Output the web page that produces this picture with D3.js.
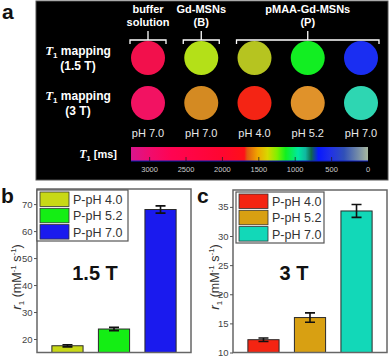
<!DOCTYPE html>
<html>
<head>
<meta charset="utf-8">
<script src="https://cdn.jsdelivr.net/npm/d3@7"></script>
<style>
  body { margin: 0; background: #fff; }
  svg { display: block; font-family: "Liberation Sans", Arial, sans-serif; }
</style>
</head>
<body>
<svg id="chart" width="390" height="358"></svg>
<script>
// ---- panel a data ----
var samples = ["buffer", "B", "P4", "P52", "P7"];
var phLabels = ["pH 7.0", "pH 7.0", "pH 4.0", "pH 5.2", "pH 7.0"];
var rowNames = ["1.5 T", "3 T"];
var colors15 = ["#f2104c", "#b4e018", "#b6c420", "#12ee22", "#1a2ef2"];
var colors3 = ["#f21262", "#d48a22", "#f42414", "#e0922a", "#2ed6b2"];
var groupLabels = [["buffer", "solution"], ["Gd-MSNs", "(B)"], ["pMAA-Gd-MSNs", "(P)"]];
var groupFirst = ["buffer", "B", "P4"];
var groupLast = ["buffer", "B", "P7"];
var cbTicks = [3000, 2500, 2000, 1500, 1000, 500, 0];
var cbStopMs = [3256, 3000, 2700, 2000, 1700, 1660, 1520, 1380, 1250, 1130, 960, 860, 780, 680, 520, 330, 150, 0];
var cbStopCol = ["#d8168e", "#f00c6e", "#ff0452", "#ff0630", "#ff1018", "#e05a10", "#f0a400", "#d8d800",
                 "#80f000", "#10f020", "#00e8a0", "#10b8a0", "#106848", "#0818ff", "#2030e8", "#3050b8", "#7088a8", "#a8b8a0"];

// ---- panels b, c data ----
var legendLabels = ["P-pH 4.0", "P-pH 5.2", "P-pH 7.0"];
var r1_15 = [17.5, 23.7, 68.0];
var err15 = [0.4, 0.6, 1.35];
var r1_3 = [12.2, 16.0, 34.3];
var err3 = [0.3, 0.8, 1.1];
var ticks15 = [20, 30, 40, 50, 60, 70];
var ticks3 = [10, 15, 20, 25, 30, 35];
var barColors15 = ["#c8d816", "#14ee14", "#1a1aee"];
var barColors3 = ["#f42412", "#d8a012", "#12d8b8"];

var svg = d3.select("#chart");

// ================= panel a =================
var a = svg.append("g");
a.append("rect").attr("x", 36).attr("y", 1).attr("width", 352).attr("height", 179)
  .attr("fill", "#000").attr("stroke", "#555").attr("stroke-width", 1);

svg.append("text").attr("x", 2).attr("y", 19).text("a")
  .attr("font-size", 21).attr("font-weight", "bold").attr("fill", "#111");

var xs = d3.scalePoint().domain(samples).range([148, 361]);
var ys = d3.scalePoint().domain(rowNames).range([58, 103]);

// group headers + brackets
groupLabels.forEach(function (lab, i) {
  var x0 = xs(groupFirst[i]) - 18, x1 = xs(groupLast[i]) + 18;
  var xm = (x0 + x1) / 2;
  if (i === 2) xm = xs("P52");
  lab.forEach(function (t, j) {
    a.append("text").attr("x", xm).attr("y", 13 + j * 13).text(t)
      .attr("text-anchor", "middle").attr("fill", "#fff")
      .attr("font-size", 11).attr("font-weight", "bold");
  });
  a.append("path")
    .attr("d", "M" + x0 + ",44V40H" + x1 + "V44M" + xm + ",40V31")
    .attr("fill", "none").attr("stroke", "#fff").attr("stroke-width", 1.3);
});

// row labels
rowNames.forEach(function (r, i) {
  var y = ys(r);
  var t = a.append("text").attr("x", 78).attr("y", y - 3).attr("text-anchor", "middle")
    .attr("fill", "#fff").attr("font-size", 12).attr("font-weight", "bold");
  t.append("tspan").text("T").attr("font-family", "'Liberation Serif', 'DejaVu Serif', serif")
    .attr("font-style", "italic").attr("font-size", 13);
  t.append("tspan").text("1").attr("font-size", 8).attr("dy", 3);
  t.append("tspan").text(" mapping").attr("dy", -3);
  a.append("text").attr("x", 78).attr("y", y + 12).attr("text-anchor", "middle")
    .attr("fill", "#fff").attr("font-size", 12).attr("font-weight", "bold")
    .text("(" + r + ")");
});

// circles
a.selectAll("circle.r15").data(samples).join("circle")
  .attr("cx", function (d) { return xs(d); }).attr("cy", ys("1.5 T")).attr("r", 17)
  .attr("fill", function (d, i) { return colors15[i]; });
a.selectAll("circle.r3").data(samples).join("circle")
  .attr("cx", function (d) { return xs(d); }).attr("cy", ys("3 T")).attr("r", 17)
  .attr("fill", function (d, i) { return colors3[i]; });

// pH labels
a.selectAll("text.ph").data(samples).join("text")
  .attr("x", function (d) { return xs(d); }).attr("y", 137)
  .attr("text-anchor", "middle").attr("fill", "#e8e8e8").attr("font-size", 11)
  .text(function (d, i) { return phLabels[i]; });

// colour bar
var cb = d3.scaleLinear().domain([3256, 0]).range([131, 368]);
var grad = svg.append("defs").append("linearGradient").attr("id", "cbgrad")
  .attr("x1", "0%").attr("x2", "100%");
cbStopMs.forEach(function (ms, i) {
  grad.append("stop").attr("offset", ((cb(ms) - 131) / 237 * 100) + "%")
    .attr("stop-color", cbStopCol[i]);
});
a.append("rect").attr("x", 131).attr("y", 147).attr("width", 237).attr("height", 14)
  .attr("fill", "url(#cbgrad)");
a.append("line").attr("x1", 131).attr("x2", 368).attr("y1", 161).attr("y2", 161)
  .attr("stroke", "#1020c0").attr("stroke-width", 1);
a.selectAll("line.cbt").data(cbTicks.slice(0, 6)).join("line")
  .attr("x1", function (d) { return cb(d); }).attr("x2", function (d) { return cb(d); })
  .attr("y1", 157).attr("y2", 161).attr("stroke", "#222").attr("stroke-width", 0.8);
a.selectAll("text.cbl").data(cbTicks).join("text")
  .attr("x", function (d) { return cb(d); }).attr("y", 172)
  .attr("text-anchor", "middle").attr("fill", "#ccc").attr("font-size", 7.5)
  .text(function (d) { return d; });
var tl = a.append("text").attr("x", 117).attr("y", 158).attr("text-anchor", "end")
  .attr("fill", "#fff").attr("font-size", 11).attr("font-weight", "bold");
tl.append("tspan").text("T").attr("font-family", "'Liberation Serif', 'DejaVu Serif', serif")
  .attr("font-style", "italic").attr("font-size", 12);
tl.append("tspan").text("1").attr("font-size", 7.5).attr("dy", 3);
tl.append("tspan").text(" [ms]").attr("dy", -3);

// ================= panels b & c =================
function barPanel(opt) {
  var g = svg.append("g");
  var x = d3.scaleBand().domain(legendLabels).range([opt.left, opt.right])
    .paddingInner(0.33).paddingOuter(0.32);
  var y = d3.scaleLinear().domain(opt.domain).range([352.5, opt.top]);

  g.selectAll("rect.bar").data(opt.values).join("rect")
    .attr("x", function (d, i) { return x(legendLabels[i]); })
    .attr("width", x.bandwidth())
    .attr("y", function (d) { return y(d); })
    .attr("height", function (d) { return y(opt.domain[0]) - y(d); })
    .attr("fill", function (d, i) { return opt.colors[i]; })
    .attr("stroke", "#2a2a2a").attr("stroke-width", 1);

  // error bars
  opt.values.forEach(function (v, i) {
    var cx = x(legendLabels[i]) + x.bandwidth() / 2;
    var e = opt.errors[i];
    g.append("path")
      .attr("d", "M" + (cx - 5) + "," + y(v + e) + "H" + (cx + 5) +
        "M" + cx + "," + y(v + e) + "V" + y(v - e) +
        "M" + (cx - 5) + "," + y(v - e) + "H" + (cx + 5))
      .attr("fill", "none").attr("stroke", "#111").attr("stroke-width", 1.6);
  });

  // frame
  g.append("rect").attr("x", opt.left).attr("y", opt.top)
    .attr("width", opt.right - opt.left).attr("height", 352.5 - opt.top)
    .attr("fill", "none").attr("stroke", "#666").attr("stroke-width", 1.5);

  var ax = g.append("g").attr("transform", "translate(" + opt.left + ",0)")
    .call(d3.axisLeft(y).tickValues(opt.ticks).tickSize(3).tickPadding(1.5));
  ax.select(".domain").remove();
  ax.selectAll("line").attr("stroke", "#555");
  ax.selectAll("text").attr("font-size", 9.5).attr("fill", "#444")
    .attr("font-family", "'Liberation Sans', Arial, sans-serif");

  // legend
  var lg = g.append("g");
  lg.append("rect").attr("x", opt.legX).attr("y", opt.legY).attr("width", opt.legW).attr("height", 51)
    .attr("fill", "#fff").attr("stroke", "#555").attr("stroke-width", 1.2);
  legendLabels.forEach(function (lab, i) {
    var yy = opt.legY + 2 + i * 16.3;
    lg.append("rect").attr("x", opt.legX + 3).attr("y", yy).attr("width", 29).attr("height", 14.5)
      .attr("fill", opt.colors[i]).attr("stroke", "#333").attr("stroke-width", 0.8);
    lg.append("text").attr("x", opt.legX + 36).attr("y", yy + 12)
      .attr("font-size", 12.5).attr("fill", "#333").text(lab);
  });

  // field label
  g.append("text").attr("x", opt.fieldX).attr("y", 280).attr("text-anchor", "middle")
    .attr("font-size", 20).attr("font-weight", "bold").attr("fill", "#111").text(opt.field);

  // y title
  var yt = g.append("text")
    .attr("transform", "translate(" + opt.titleX + ",277) rotate(-90)")
    .attr("text-anchor", "middle").attr("font-size", 12.5).attr("fill", "#333");
  yt.append("tspan").text("r").attr("font-style", "italic").attr("font-size", 13.5);
  yt.append("tspan").text("1").attr("font-size", 8).attr("dy", 3);
  yt.append("tspan").text(" (mM").attr("dy", -3);
  yt.append("tspan").text("-1").attr("font-size", 8).attr("dy", -5);
  yt.append("tspan").text(" s").attr("dy", 5);
  yt.append("tspan").text("-1").attr("font-size", 8).attr("dy", -5);
  yt.append("tspan").text(")").attr("dy", 5);

  // panel letter
  svg.append("text").attr("x", opt.letterX).attr("y", 203).text(opt.letter)
    .attr("font-size", 21).attr("font-weight", "bold").attr("fill", "#111");
}

barPanel({
  left: 37, right: 191, top: 189, domain: [15, 75.6],
  values: r1_15, errors: err15, ticks: ticks15, colors: barColors15,
  legX: 37, legY: 190, legW: 91, field: "1.5 T", fieldX: 95, titleX: 21,
  letter: "b", letterX: 1
});
barPanel({
  left: 233, right: 387, top: 190, domain: [10, 37.9],
  values: r1_3, errors: err3, ticks: ticks3, colors: barColors3,
  legX: 236, legY: 192, legW: 88, field: "3 T", fieldX: 294, titleX: 219,
  letter: "c", letterX: 197
});
</script>
</body>
</html>
